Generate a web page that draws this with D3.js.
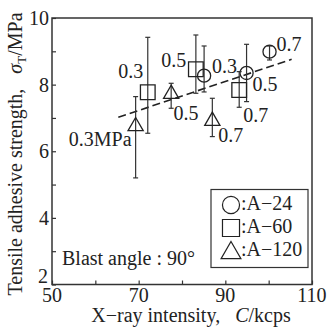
<!DOCTYPE html>
<html>
<head>
<meta charset="utf-8">
<script src="https://cdn.jsdelivr.net/npm/d3@7"></script>
<style>
  body { margin: 0; background: #fff; }
  text { font-family: "Liberation Serif", "Times New Roman", serif; fill: #222; }
</style>
</head>
<body>
<svg id="chart" width="330" height="331"></svg>
<script>
// A-24 (circle)
const a24X = [85.1, 94.9, 100.2];
const a24Y = [8.27, 8.35, 8.99];
const a24Hi = [9.16, 9.21, 9.16];
const a24Lo = [7.78, 7.49, 8.74];
// A-60 (square)
const a60X = [72.1, 83.2, 93.2];
const a60Y = [7.77, 8.46, 7.84];
const a60Hi = [9.42, 9.49, 8.39];
const a60Lo = [6.54, 7.74, 7.32];
// A-120 (triangle)
const a120X = [69.3, 77.5, 87.0];
const a120Y = [6.78, 7.75, 6.94];
const a120Hi = [7.64, 8.04, 7.59];
const a120Lo = [5.2, 7.29, 6.44];

const pressures = ["0.3", "0.5", "0.7"];
const fitX = [65.3, 105.3];
const fitY = [7.02, 8.76];
const xTicks = [50, 60, 70, 80, 90, 100, 110];
const xTickLabels = [50, 70, 90, 110];
const yTicks = [2, 3, 4, 5, 6, 7, 8, 9, 10];
const yTickLabels = [2, 4, 6, 8, 10];

const svg = d3.select("#chart");
const mLeft = 52, mRight = 312, mTop = 18, mBottom = 284.5;

const x = d3.scaleLinear().domain([50, 110]).range([mLeft, mRight]);
const y = d3.scaleLinear().domain([2, 10]).range([mBottom, mTop]);

// label placement (dx, dy, anchor) per series/point
const labelPos = {
  circle:   [[8, -3, "start"], [6, 18, "start"], [7, -1, "start"]],
  square:   [[-4.5, -14, "end"], [-9.5, -2.6, "end"], [4, 31.7, "start"]],
  triangle: [[-4, 21, "end"], [2.3, 27, "start"], [6, 21.7, "start"]]
};

const series = [
  { shape: "circle", xs: a24X, ys: a24Y, hi: a24Hi, lo: a24Lo, name: "A\u221224" },
  { shape: "square", xs: a60X, ys: a60Y, hi: a60Hi, lo: a60Lo, name: "A\u221260" },
  { shape: "triangle", xs: a120X, ys: a120Y, hi: a120Hi, lo: a120Lo, name: "A\u2212120" }
];

const symbolSize = { circle: 135, square: 215, triangle: 100 };
const symbolType = { circle: d3.symbolCircle, square: d3.symbolSquare, triangle: d3.symbolTriangle };

// axes ticks (inward)
const xAxis = d3.axisBottom(x).tickValues(xTicks).tickSizeInner(-4).tickSizeOuter(0).tickFormat("");
svg.append("g").attr("transform", "translate(0," + mBottom + ")").call(xAxis)
  .call(g => g.select(".domain").remove())
  .selectAll("line").attr("stroke", "#333").attr("stroke-width", 1.2);

const yAxis = d3.axisLeft(y).tickValues(yTicks).tickSizeInner(-4).tickSizeOuter(0).tickFormat("");
svg.append("g").attr("transform", "translate(" + mLeft + ",0)").call(yAxis)
  .call(g => g.select(".domain").remove())
  .selectAll("line").attr("stroke", "#333").attr("stroke-width", 1.2);

// frame
svg.append("rect")
  .attr("x", mLeft).attr("y", mTop)
  .attr("width", mRight - mLeft).attr("height", mBottom - mTop)
  .attr("fill", "none").attr("stroke", "#333").attr("stroke-width", 1.5);

// tick labels
svg.selectAll(".xl").data(xTickLabels).enter().append("text")
  .attr("x", d => x(d)).attr("y", 302)
  .attr("text-anchor", "middle").attr("font-size", 20)
  .text(d => d);

svg.selectAll(".yl").data(yTickLabels).enter().append("text")
  .attr("x", d => d === 2 ? 48 : 49).attr("y", d => d === 2 ? y(d) - 2 : y(d) + 7)
  .attr("text-anchor", "end").attr("font-size", 20)
  .text(d => d);

// axis titles
const xt = svg.append("text").attr("x", 191).attr("y", 322)
  .attr("text-anchor", "middle").attr("font-size", 20);
xt.append("tspan").text("X\u2212ray intensity,\u2002 ");
xt.append("tspan").attr("font-style", "italic").text("C");
xt.append("tspan").text("/kcps");

const yt = svg.append("text")
  .attr("transform", "translate(22,154) rotate(-90)")
  .attr("text-anchor", "middle").attr("font-size", 20);
yt.append("tspan").text("Tensile adhesive strength,\u2002 ");
yt.append("tspan").attr("font-style", "italic").text("\u03C3");
yt.append("tspan").attr("font-size", 13).attr("dy", 4).text("T");
yt.append("tspan").attr("dy", -4).text("/MPa");

// fitted dashed line
svg.append("line")
  .attr("x1", x(fitX[0])).attr("y1", y(fitY[0]))
  .attr("x2", x(fitX[1])).attr("y2", y(fitY[1]))
  .attr("stroke", "#222").attr("stroke-width", 1.6)
  .attr("stroke-dasharray", "8,4");

// error bars and markers
series.forEach(s => {
  const g = svg.append("g");
  s.xs.forEach((xv, i) => {
    const cx = x(xv);
    g.append("line").attr("x1", cx).attr("x2", cx)
      .attr("y1", y(s.hi[i])).attr("y2", y(s.lo[i]))
      .attr("stroke", "#333").attr("stroke-width", 1.2);
    [s.hi[i], s.lo[i]].forEach(v => {
      g.append("line").attr("x1", cx - 2.5).attr("x2", cx + 2.5)
        .attr("y1", y(v)).attr("y2", y(v))
        .attr("stroke", "#333").attr("stroke-width", 1.2);
    });
    const dyShift = s.shape === "triangle" ? 1 : 0;
    g.append("path")
      .attr("d", d3.symbol().type(symbolType[s.shape]).size(symbolSize[s.shape])())
      .attr("transform", "translate(" + cx + "," + (y(s.ys[i]) + dyShift) + ")")
      .attr("fill", "none").attr("stroke", "#222").attr("stroke-width", 1.3);
    const lp = labelPos[s.shape][i];
    const txt = (s.shape === "triangle" && i === 0) ? pressures[i] + "MPa" : pressures[i];
    g.append("text")
      .attr("x", cx + lp[0]).attr("y", y(s.ys[i]) + lp[1])
      .attr("text-anchor", lp[2]).attr("font-size", 20)
      .text(txt);
  });
});

// annotation
svg.append("text").attr("x", 62).attr("y", 265).attr("font-size", 20)
  .text("Blast angle : 90\u00B0");

// legend
const lg = svg.append("g");
lg.append("rect").attr("x", 211).attr("y", 189.5).attr("width", 97).attr("height", 78)
  .attr("fill", "#fff").attr("stroke", "#333").attr("stroke-width", 1.2);
const legendSize = { circle: 230, square: 290, triangle: 170 };
const legendRowY = [205, 228, 251];
series.forEach((s, i) => {
  lg.append("path")
    .attr("d", d3.symbol().type(symbolType[s.shape]).size(legendSize[s.shape])())
    .attr("transform", "translate(231," + (legendRowY[i] + (s.shape === "triangle" ? 2 : 0)) + ")")
    .attr("fill", "none").attr("stroke", "#222").attr("stroke-width", 1.2);
  lg.append("text").attr("x", 241).attr("y", legendRowY[i] + 5)
    .attr("font-size", 20).text(":" + s.name);
});
</script>
</body>
</html>
